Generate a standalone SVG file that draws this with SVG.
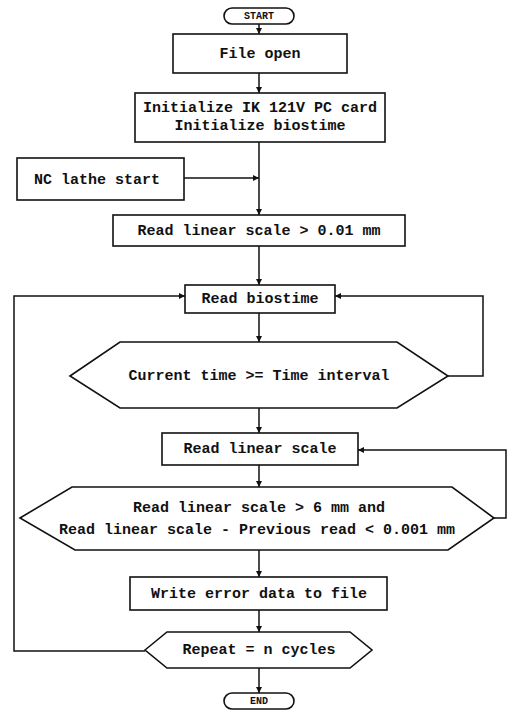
<svg xmlns="http://www.w3.org/2000/svg" width="510" height="711" viewBox="0 0 510 711">
<style>
.box{fill:#fff;stroke:#111;stroke-width:1.6}
.ln{fill:none;stroke:#111;stroke-width:1.5}
text{font-family:"Liberation Mono","DejaVu Sans Mono",monospace;font-weight:bold;font-size:15px;fill:#111;text-anchor:middle;dominant-baseline:central}
.sm{font-size:10px}
</style>
<defs>
<marker id="a" viewBox="0 0 6 6" refX="6" refY="3" markerWidth="6" markerHeight="6" orient="auto" markerUnits="userSpaceOnUse"><path d="M0,0 L6,3 L0,6 z" fill="#111"/></marker>
</defs>
<rect width="510" height="711" fill="#fff"/>
<g id="connectors">
<path class="ln" d="M259,24 V34" marker-end="url(#a)"/>
<path class="ln" d="M259,73 V93" marker-end="url(#a)"/>
<path class="ln" d="M259,142 V215" marker-end="url(#a)"/>
<path class="ln" d="M184,178 H259" marker-end="url(#a)"/>
<path class="ln" d="M259,246 V285" marker-end="url(#a)"/>
<path class="ln" d="M145,651 H14 V296 H185" marker-end="url(#a)"/>
<path class="ln" d="M448,376 H483 V296 H335" marker-end="url(#a)"/>
<path class="ln" d="M259,313 V342" marker-end="url(#a)"/>
<path class="ln" d="M259,408 V433" marker-end="url(#a)"/>
<path class="ln" d="M494,518 H506 V450 H358" marker-end="url(#a)"/>
<path class="ln" d="M259,465 V487" marker-end="url(#a)"/>
<path class="ln" d="M259,550 V577" marker-end="url(#a)"/>
<path class="ln" d="M259,610 V632" marker-end="url(#a)"/>
<path class="ln" d="M259,668 V693" marker-end="url(#a)"/>
</g>
<g id="start"><rect class="box" x="224" y="8" width="70" height="16" rx="8"/><text class="sm" x="259" y="16.5">START</text></g>
<g id="file-open"><rect class="box" x="173" y="34" width="174" height="39"/><text x="260" y="54">File open</text></g>
<g id="init"><rect class="box" x="135" y="93" width="250" height="49"/><text x="260" y="108">Initialize IK 121V PC card</text><text x="260" y="126">Initialize biostime</text></g>
<g id="nc-lathe"><rect class="box" x="17" y="158" width="167" height="42"/><text x="97" y="180">NC lathe start</text></g>
<g id="read-001"><rect class="box" x="113" y="215" width="292" height="31"/><text x="259" y="231">Read linear scale &gt; 0.01 mm</text></g>
<g id="read-biostime"><rect class="box" x="185" y="285" width="150" height="28"/><text x="260" y="299">Read biostime</text></g>
<g id="time-check"><polygon class="box" points="70,376 120,342 397,342 448,376 397,408 120,408"/><text x="259" y="376">Current time &gt;= Time interval</text></g>
<g id="read-linear"><rect class="box" x="162" y="433" width="196" height="32"/><text x="260" y="449">Read linear scale</text></g>
<g id="scale-check"><polygon class="box" points="20,518 72,487 452,487 494,518 448,550 75,550"/><text x="259" y="508">Read linear scale &gt; 6 mm and</text><text x="257" y="530">Read linear scale - Previous read &lt; 0.001 mm</text></g>
<g id="write-error"><rect class="box" x="130" y="577" width="257" height="33"/><text x="259" y="594">Write error data to file</text></g>
<g id="repeat"><polygon class="box" points="145,650 167,632 350,632 372,650 350,668 167,668"/><text x="259" y="650">Repeat = n cycles</text></g>
<g id="end"><rect class="box" x="224" y="693" width="70" height="16" rx="8"/><text class="sm" x="259" y="701.5">END</text></g>
</svg>
